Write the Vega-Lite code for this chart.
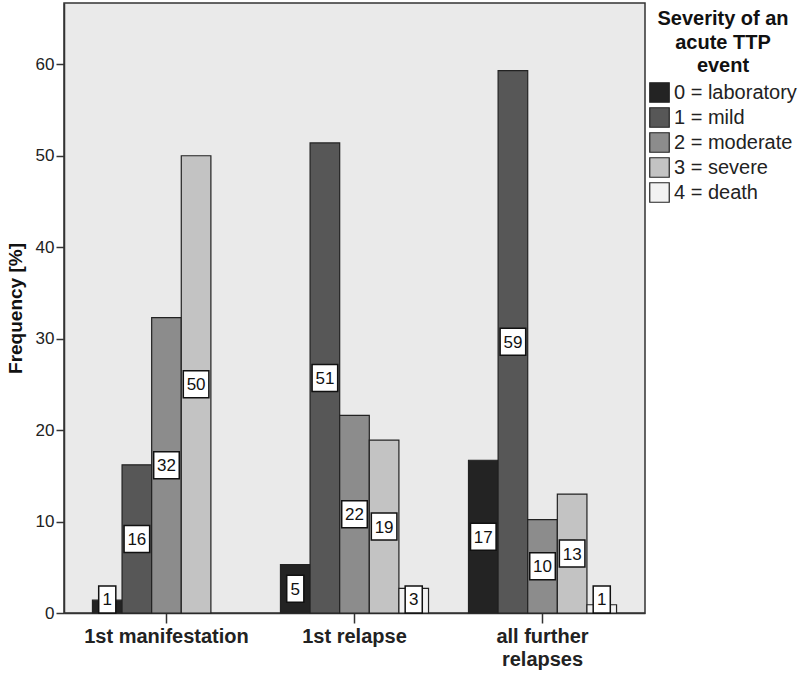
{
  "$schema": "https://vega.github.io/schema/vega-lite/v6.json",
  "width": 581,
  "height": 610,
  "autosize": "none",
  "padding": {"left": 64, "top": 3, "right": 155, "bottom": 62},
  "background": "white",
  "config": {
    "font": "Liberation Sans",
    "view": {"stroke": "#333333", "strokeWidth": 1.5, "fill": "#eaeaea"},
    "axisY": {
      "grid": false,
      "tickSize": 8,
      "tickColor": "#333333",
      "tickWidth": 1.5,
      "domainColor": "#333333",
      "domainWidth": 1.5,
      "labelFontSize": 17,
      "labelColor": "#222222",
      "labelPadding": 2,
      "titleFontSize": 19,
      "titleFontWeight": "bold",
      "titleColor": "#111111",
      "titlePadding": 10
    }
  },
  "data": {
    "values": [
      {"event": "1st manifestation", "sev": "0 = laboratory", "v": 1.4, "lab": "1"},
      {"event": "1st manifestation", "sev": "1 = mild", "v": 16.2, "lab": "16"},
      {"event": "1st manifestation", "sev": "2 = moderate", "v": 32.3, "lab": "32"},
      {"event": "1st manifestation", "sev": "3 = severe", "v": 50.0, "lab": "50"},
      {"event": "1st relapse", "sev": "0 = laboratory", "v": 5.3, "lab": "5"},
      {"event": "1st relapse", "sev": "1 = mild", "v": 51.4, "lab": "51"},
      {"event": "1st relapse", "sev": "2 = moderate", "v": 21.6, "lab": "22"},
      {"event": "1st relapse", "sev": "3 = severe", "v": 18.9, "lab": "19"},
      {"event": "1st relapse", "sev": "4 = death", "v": 2.7, "lab": "3"},
      {"event": "all further relapses", "sev": "0 = laboratory", "v": 16.7, "lab": "17"},
      {"event": "all further relapses", "sev": "1 = mild", "v": 59.3, "lab": "59"},
      {"event": "all further relapses", "sev": "2 = moderate", "v": 10.2, "lab": "10"},
      {"event": "all further relapses", "sev": "3 = severe", "v": 13.0, "lab": "13"},
      {"event": "all further relapses", "sev": "4 = death", "v": 0.9, "lab": "1"}
    ]
  },
  "encoding": {
    "x": {
      "field": "event",
      "type": "nominal",
      "sort": ["1st manifestation", "1st relapse", "all further relapses"],
      "scale": {"paddingInner": 0, "paddingOuter": 0.045},
      "title": null,
      "axis": {
        "labelAngle": 0,
        "labelFontSize": 20,
        "labelFontWeight": "bold",
        "labelColor": "#222222",
        "labelPadding": 3,
        "labelLineHeight": 23,
        "labelExpr": "datum.label == 'all further relapses' ? ['all further', 'relapses'] : datum.label",
        "tickSize": 10,
        "tickColor": "#333333",
        "tickWidth": 1.5,
        "domainColor": "#333333",
        "domainWidth": 1.5,
        "grid": false
      }
    },
    "xOffset": {
      "field": "sev",
      "type": "nominal",
      "scale": {
        "domain": ["0 = laboratory", "1 = mild", "2 = moderate", "3 = severe", "4 = death"],
        "paddingInner": 0,
        "paddingOuter": 0.675
      }
    }
  },
  "layer": [
    {
      "mark": {"type": "bar", "stroke": "#222222", "strokeWidth": 1.2},
      "encoding": {
        "y": {
          "field": "v",
          "type": "quantitative",
          "scale": {"domain": [0, 66.7], "nice": false},
          "title": "Frequency [%]",
          "axis": {"values": [0, 10, 20, 30, 40, 50, 60]}
        },
        "color": {
          "field": "sev",
          "type": "nominal",
          "scale": {
            "domain": ["0 = laboratory", "1 = mild", "2 = moderate", "3 = severe", "4 = death"],
            "range": ["#232323", "#575757", "#8c8c8c", "#c3c3c3", "#f2f2f2"]
          },
          "legend": {
            "title": ["Severity of an", "acute TTP", "event"],
            "orient": "none",
            "legendX": 585,
            "legendY": 6,
            "titleFontSize": 20,
            "titleFontWeight": "bold",
            "titleColor": "#111111",
            "titleAnchor": "middle",
            "titleAlign": "center",
            "titleLineHeight": 23.5,
            "titlePadding": 6,
            "labelFontSize": 20,
            "labelColor": "#222222",
            "labelOffset": 4,
            "symbolType": "square",
            "symbolSize": 380,
            "symbolStrokeColor": "#222222",
            "symbolStrokeWidth": 1.2,
            "symbolOpacity": 1,
            "rowPadding": 0
          }
        }
      }
    },
    {
      "transform": [{"calculate": "max(datum.v / 2, 1.48)", "as": "ly"}],
      "mark": {
        "type": "point",
        "filled": true,
        "fill": "white",
        "stroke": "#111111",
        "strokeWidth": 1.5,
        "opacity": 1,
        "size": 324
      },
      "encoding": {
        "y": {"field": "ly", "type": "quantitative", "scale": {"domain": [0, 66.7], "nice": false}, "title": "Frequency [%]", "axis": {"values": [0, 10, 20, 30, 40, 50, 60]}},
        "shape": {
          "condition": {"test": "length(datum.lab) > 1", "value": "M-1.42,-1.5L1.42,-1.5L1.42,1.5L-1.42,1.5Z"},
          "value": "M-0.95,-1.5L0.95,-1.5L0.95,1.5L-0.95,1.5Z"
        }
      }
    },
    {
      "transform": [{"calculate": "max(datum.v / 2, 1.48)", "as": "ly"}],
      "mark": {"type": "text", "fontSize": 17, "baseline": "middle", "align": "center", "color": "#111111", "dy": 1},
      "encoding": {
        "y": {"field": "ly", "type": "quantitative", "scale": {"domain": [0, 66.7], "nice": false}, "title": "Frequency [%]", "axis": {"values": [0, 10, 20, 30, 40, 50, 60]}},
        "text": {"field": "lab"}
      }
    }
  ]
}
